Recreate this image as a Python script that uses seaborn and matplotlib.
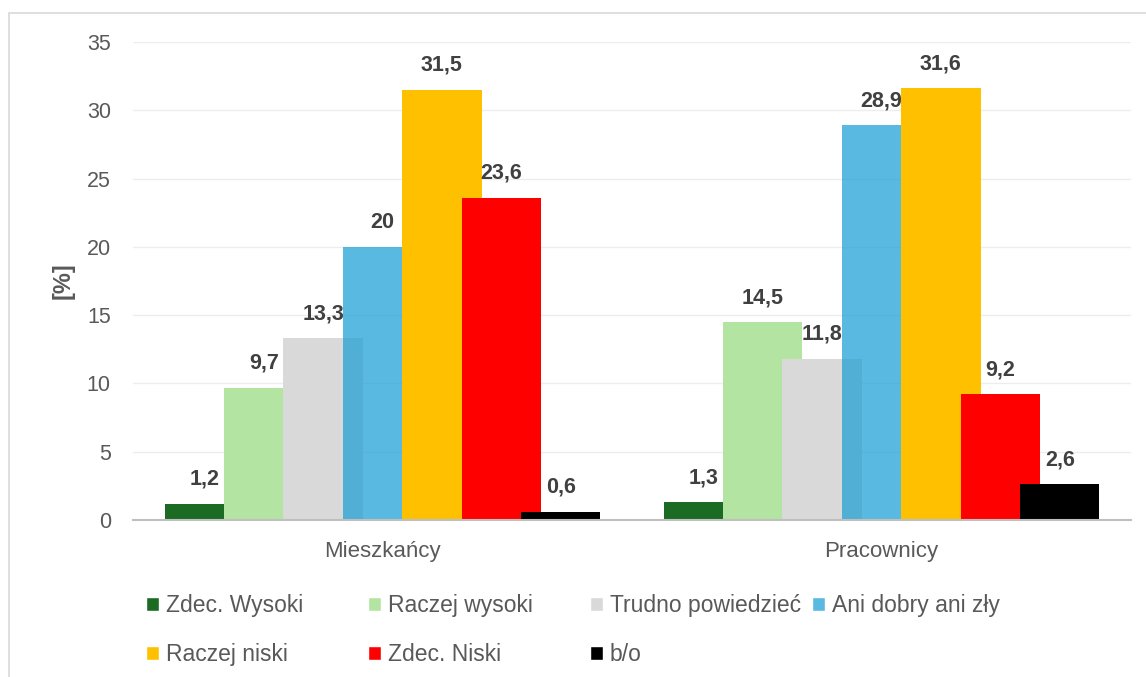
import matplotlib
matplotlib.use("Agg")
import matplotlib.pyplot as plt
from matplotlib.lines import Line2D
import seaborn as sns
import pandas as pd

grupy = ["Mieszkańcy", "Pracownicy"]
kategorie = ["Zdec. Wysoki", "Raczej wysoki", "Trudno powiedzieć", "Ani dobry ani zły",
             "Raczej niski", "Zdec. Niski", "b/o"]
mieszkancy = [1.2, 9.7, 13.3, 20, 31.5, 23.6, 0.6]
pracownicy = [1.3, 14.5, 11.8, 28.9, 31.6, 9.2, 2.6]
kolory = ["#1B6B24", "#B4E4A2", "#D9D9D9", "#23A2D6", "#FFC000", "#FF0000", "#000000"]
y_ticks = [0, 5, 10, 15, 20, 25, 30, 35]

rows = []
for g, vals in zip(grupy, [mieszkancy, pracownicy]):
    for k, v in zip(kategorie, vals):
        rows.append({"grupa": g, "kategoria": k, "wartosc": v})
df = pd.DataFrame(rows)

sns.set_style("white")
plt.rcParams["font.family"] = ["Liberation Sans", "DejaVu Sans"]

szary = "#595959"
fig = plt.figure(figsize=(11.46, 6.77), dpi=100)
ax = fig.add_axes([133 / 1146, 1 - 520 / 677, 998 / 1146, 478 / 677])

krok = 1 / 6.3 * 0.75          # odstep miedzy slupkami (overlap 25%)
sns.barplot(data=df, x="grupa", y="wartosc", hue="kategoria", order=grupy,
            hue_order=kategorie, palette=kolory, width=7 * krok, saturation=1,
            errorbar=None, ax=ax, legend=True)

# poszerzenie slupkow -> nachodzenie jak w Excelu
for i, cont in enumerate(ax.containers):
    for p in cont:
        w = p.get_width()
        nw = w / 0.75
        p.set_x(p.get_x() - (nw - w) / 2)
        p.set_width(nw)
        p.set_linewidth(0)
        if kategorie[i] == "Ani dobry ani zły":
            p.set_alpha(0.75)
    vals = [mieszkancy[i], pracownicy[i]]
    ax.bar_label(cont, labels=[f"{v:g}".replace(".", ",") for v in vals], padding=10,
                 fontsize=15.5, fontweight="bold", color="#404040")

handles = ax.get_legend().legend_handles
ax.get_legend().remove()

ax.set_xlim(-0.5, 1.5)
ax.set_ylim(0, 35)
ax.set_yticks(y_ticks)
ax.yaxis.grid(True, color="#EDEDED", linewidth=1.0)
ax.set_axisbelow(True)
for s in ["top", "right", "left"]:
    ax.spines[s].set_visible(False)
ax.spines["bottom"].set_color("#BFBFBF")
ax.spines["bottom"].set_linewidth(1.5)
ax.tick_params(axis="both", length=0, colors=szary, labelsize=15.5)
ax.tick_params(axis="x", pad=15, labelsize=16)
ax.tick_params(axis="y", pad=16)
ax.set_xlabel("")
ax.set_ylabel("[%]", fontsize=17, fontweight="bold", color=szary)
ax.yaxis.set_label_coords(-0.058, 0.5)

# legenda: 4 kolumny, 2 wiersze
kol_x = [146, 368, 590, 812]
for c in range(4):
    idx = [c, c + 4] if c + 4 < len(kategorie) else [c]
    hs = [handles[j] for j in idx]
    for h in hs:
        h.set_alpha(None)
    if c == 3:
        hs[0].set_facecolor("#5AB9E0")
    lg = fig.legend(hs, [kategorie[j] for j in idx], loc="upper left",
                    bbox_to_anchor=(kol_x[c] / 1146, 1 - 594 / 677), frameon=False,
                    fontsize=16.5, handlelength=0.57, handleheight=0.57,
                    handletextpad=0.3, labelspacing=1.15, borderpad=0, borderaxespad=0)
    for t in lg.get_texts():
        t.set_color(szary)

# ramka wykresu
fig.add_artist(Line2D([9 / 1146, 1], [1 - 12.5 / 677] * 2, color="#D9D9D9", lw=1.2))
fig.add_artist(Line2D([9 / 1146] * 2, [0, 1 - 12.5 / 677], color="#D9D9D9", lw=1.2))

fig.savefig("out.png", dpi=100)
